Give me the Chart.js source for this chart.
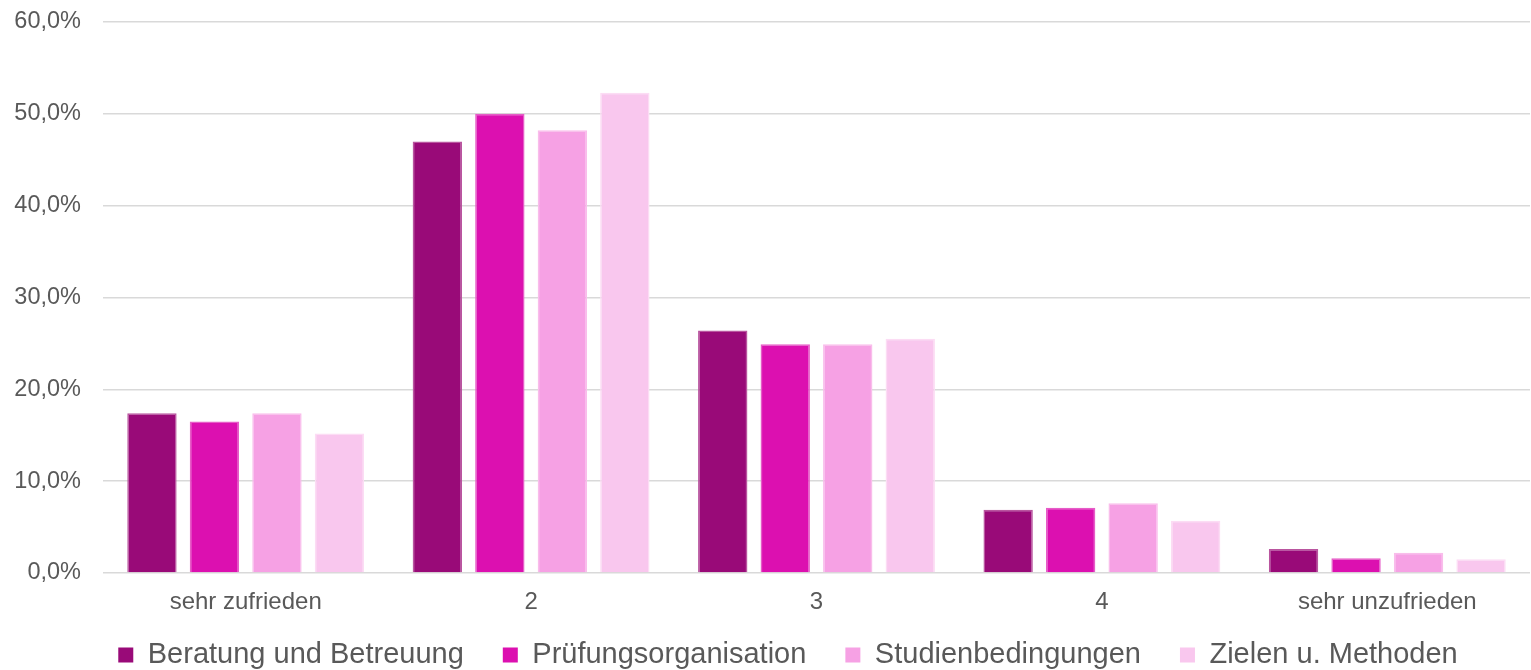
<!DOCTYPE html>
<html>
<head>
<meta charset="utf-8">
<script src="https://cdn.jsdelivr.net/npm/chart.js@4"></script>
<style>
  html, body { margin: 0; padding: 0; background: #ffffff; }
  #wrap { width: 1531px; height: 670px; position: relative; }
</style>
</head>
<body>
<div id="wrap"><canvas id="Chart"></canvas></div>
<script>
// categories and series (percent)
const categories = ["sehr zufrieden", "2", "3", "4", "sehr unzufrieden"];
const seriesNames = ["Beratung und Betreuung", "Prüfungsorganisation", "Studienbedingungen", "Zielen u. Methoden"];
const beratung = [17.4, 47.0, 26.4, 6.9, 2.6];
const pruefung = [16.5, 50.0, 24.9, 7.1, 1.6];
const studien = [17.4, 48.2, 24.9, 7.6, 2.2];
const zielen = [15.2, 52.3, 25.5, 5.7, 1.5];
const yTicks = [0, 10, 20, 30, 40, 50, 60];

const fillColors = ['#990a78', '#dc10b0', '#f6a1e4', '#f9c7ee'];
const borderColors = ['#b9559f', '#e65cc7', '#f9bdeb', '#fcdcf4'];

const seriesValues = [beratung, pruefung, studien, zielen];
const datasets = seriesNames.map((name, i) => ({
    label: name,
    data: seriesValues[i],
    backgroundColor: fillColors[i],
    borderColor: borderColors[i],
    borderWidth: 1.5,
    categoryPercentage: 0.876,
    barPercentage: 0.79
}));

// legend box: keep it short so the plot reaches down to y=573,
// then draw the row a bit higher / more to the right
const legendShift = {
    id: 'legendShift',
    beforeUpdate(chart) {
        const lg = chart.legend;
        if (lg && !lg._shifted) {
            const fit = lg.fit;
            const draw = lg.draw;
            lg.fit = function () { fit.call(this); this.height = 53; };
            lg.draw = function () {
                const t = this.top, l = this.left, r = this.right;
                this.top = t - 15.5;
                this.left = l + 23;
                this.right = r + 23;
                draw.call(this);
                this.top = t; this.left = l; this.right = r;
            };
            lg._shifted = true;
        }
    }
};

const textColor = '#595959';
const fontFamily = '"Liberation Sans", Arial, sans-serif';

let ctx = document.getElementById('Chart').getContext('2d');
let barChart = new Chart(ctx, {
    type: 'bar',
    data: { labels: categories, datasets: datasets },
    options: {
        responsive: true,
        maintainAspectRatio: false,
        animation: false,
        layout: { padding: { top: 22, left: 0, right: 1, bottom: 0 } },
        plugins: {
            legend: {
                position: 'bottom',
                labels: {
                    color: textColor,
                    boxWidth: 15,
                    boxHeight: 15,
                    padding: 39,
                    font: { family: fontFamily, size: 29 },
                    generateLabels(chart) {
                        return chart.data.datasets.map((ds, i) => ({
                            text: ds.label,
                            fillStyle: ds.backgroundColor,
                            strokeStyle: ds.backgroundColor,
                            lineWidth: 0,
                            fontColor: textColor,
                            datasetIndex: i
                        }));
                    }
                }
            },
            tooltip: { enabled: false },
            title: { display: false }
        },
        scales: {
            x: {
                grid: { display: false, drawTicks: false },
                border: { display: false },
                ticks: {
                    color: textColor,
                    padding: 14.6,
                    maxRotation: 0,
                    font: { family: fontFamily, size: 24 }
                },
                afterFit(scale) { scale.height = 44; }
            },
            y: {
                min: 0,
                max: 60,
                grid: { color: '#d9d9d9', lineWidth: 1.6, drawTicks: false },
                border: { display: false },
                afterBuildTicks(scale) { scale.ticks = yTicks.map(v => ({ value: v })); },
                afterFit(scale) {
                    scale.width = 103;
                    scale.paddingTop = 0;
                    scale.paddingBottom = 0;
                },
                ticks: {
                    color: textColor,
                    padding: 22,
                    font: { family: fontFamily, size: 23.5 },
                    callback: v => v.toFixed(1).replace('.', ',') + '%'
                }
            }
        }
    },
    plugins: [legendShift]
});
</script>
</body>
</html>
